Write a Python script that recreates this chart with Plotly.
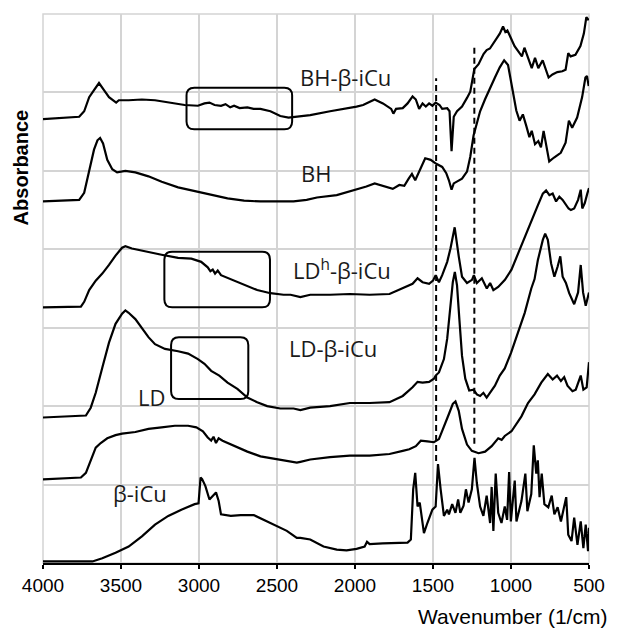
import plotly.graph_objects as go

# ---- data: (wavenumber 1/cm, stacked absorbance in display units) ----
BH_BICU = [(4000,5.66),(3768,5.69),(3736,5.76),(3704,5.94),(3673,6.03),(3641,6.12),(3609,6.03),(3577,5.94),
           (3531,5.87),(3514,5.90),(3451,5.90),(3366,5.91),(3282,5.90),(3197,5.87),(3092,5.84),(3007,5.83),
           (2965,5.86),(2933,5.87),(2900,5.84),(2859,5.83),(2830,5.85),(2800,5.81),(2775,5.83),(2740,5.80),
           (2690,5.81),(2650,5.79),(2606,5.79),(2542,5.76),(2479,5.70),(2426,5.68),(2371,5.69),(2287,5.71),
           (2160,5.76),(2033,5.80),(1990,5.82),(1948,5.84),(1874,5.91),(1821,5.86),(1768,5.79),(1754,5.73),
           (1737,5.79),(1694,5.80),(1663,5.86),(1631,5.95),(1610,5.91),(1589,5.79),(1567,5.86),(1546,5.82),
           (1525,5.86),(1504,5.83),(1483,5.87),(1458,5.84),(1441,5.79),(1409,5.80),(1394,5.76),(1381,5.25),
           (1367,5.69),(1346,5.76),(1314,5.82),(1282,5.93),(1261,6.01),(1235,6.30),(1208,6.36),(1176,6.49),
           (1156,6.54),(1135,6.56),(1114,6.62),(1093,6.69),(1072,6.75),(1051,6.84),(1036,6.77),(1023,6.79),
           (998,6.67),(977,6.59),(945,6.50),(930,6.46),(914,6.57),(892,6.46),(867,6.31),(846,6.44),(825,6.31),
           (797,6.41),(776,6.29),(759,6.19),(734,6.23),(703,6.26),(671,6.27),(650,6.29),(633,6.50),(618,6.46),
           (587,6.48),(555,6.59),(533,6.75),(517,6.96),(502,6.92)]

BH = [(4000,4.61),(3768,4.63),(3736,4.72),(3704,5.01),(3673,5.27),(3651,5.39),(3634,5.42),(3615,5.35),
      (3588,5.14),(3556,5.02),(3525,4.98),(3472,5.00),(3408,4.98),(3324,4.93),(3239,4.86),(3134,4.79),
      (3028,4.74),(2922,4.69),(2817,4.65),(2711,4.62),(2606,4.61),(2500,4.61),(2394,4.61),(2310,4.63),
      (2244,4.66),(2117,4.69),(1990,4.76),(1927,4.80),(1874,4.84),(1821,4.81),(1758,4.77),(1716,4.82),
      (1684,4.81),(1656,4.90),(1635,4.96),(1614,4.88),(1589,4.99),(1567,5.09),(1550,5.16),(1515,5.14),
      (1479,5.09),(1441,5.05),(1415,4.97),(1398,4.88),(1381,4.76),(1367,4.84),(1346,4.86),(1314,4.90),
      (1282,4.99),(1261,5.18),(1240,5.45),(1210,5.68),(1198,5.76),(1167,5.91),(1135,6.06),(1103,6.19),
      (1072,6.32),(1044,6.41),(1019,6.35),(994,6.06),(966,5.77),(945,5.64),(924,5.72),(903,5.58),(882,5.43),
      (867,5.51),(846,5.34),(825,5.38),(808,5.30),(791,5.51),(770,5.25),(755,5.12),(724,5.17),(681,5.23),
      (650,5.36),(629,5.64),(608,5.55),(576,5.68),(544,5.94),(523,6.19),(513,6.21),(502,6.08)]

LDH_BICU = [(4000,3.26),(3757,3.27),(3736,3.33),(3704,3.48),(3662,3.60),(3620,3.69),(3577,3.80),(3535,3.92),
            (3493,4.02),(3472,4.04),(3430,4.01),(3345,3.97),(3240,3.93),(3134,3.89),(3049,3.88),(2986,3.84),
            (2944,3.77),(2927,3.72),(2912,3.74),(2897,3.69),(2880,3.73),(2859,3.67),(2796,3.62),(2711,3.55),
            (2627,3.48),(2542,3.44),(2458,3.42),(2413,3.42),(2350,3.39),(2287,3.42),(2160,3.42),(2033,3.43),
            (1906,3.42),(1779,3.43),(1694,3.50),(1631,3.56),(1599,3.63),(1567,3.58),(1525,3.56),(1500,3.60),
            (1483,3.67),(1462,3.58),(1441,3.67),(1409,3.84),(1388,4.01),(1361,4.28),(1335,3.91),(1314,3.65),
            (1282,3.57),(1250,3.61),(1238,3.67),(1219,3.57),(1187,3.63),(1155,3.50),(1134,3.57),(1113,3.48),
            (1082,3.52),(1039,3.61),(997,3.74),(955,3.95),(912,4.16),(870,4.37),(828,4.56),(796,4.71),
            (775,4.75),(754,4.69),(733,4.71),(711,4.61),(690,4.67),(669,4.63),(648,4.56),(631,4.52),(616,4.50),
            (595,4.52),(570,4.63),(553,4.76),(543,4.52),(527,4.59),(511,4.71),(500,4.78)]

LD_BICU = [(4000,1.855),(3725,1.88),(3694,1.98),(3662,2.17),(3620,2.49),(3577,2.81),(3535,3.05),(3493,3.18),
           (3472,3.22),(3451,3.19),(3408,3.11),(3366,2.99),(3324,2.88),(3282,2.79),(3218,2.73),(3134,2.70),
           (3070,2.67),(3007,2.60),(2965,2.54),(2922,2.45),(2870,2.39),(2817,2.30),(2754,2.22),(2690,2.11),
           (2627,2.05),(2563,2.00),(2479,1.97),(2394,1.97),(2350,1.95),(2287,1.98),(2160,2.00),(2033,2.04),
           (1906,2.04),(1779,2.05),(1694,2.13),(1631,2.24),(1599,2.31),(1567,2.30),(1525,2.31),(1494,2.35),
           (1483,2.39),(1462,2.43),(1430,2.60),(1409,2.86),(1388,3.24),(1373,3.58),(1360,3.71),(1346,3.54),
           (1331,3.11),(1314,2.64),(1293,2.35),(1268,2.20),(1240,2.21),(1219,2.15),(1198,2.13),(1177,2.17),
           (1156,2.11),(1134,2.17),(1103,2.26),(1072,2.39),(1040,2.48),(1000,2.68),(955,2.95),(912,3.19),
           (870,3.50),(849,3.62),(828,3.86),(796,4.12),(781,4.20),(764,4.12),(743,3.82),(722,3.65),(701,3.78),
           (684,3.91),(669,3.65),(648,3.57),(627,3.44),(595,3.30),(570,3.45),(553,3.80),(538,3.45),(521,3.28),
           (500,3.45)]

LD = [(4000,1.066),(3757,1.09),(3725,1.15),(3694,1.32),(3662,1.47),(3630,1.53),(3588,1.59),(3535,1.63),
      (3493,1.65),(3408,1.67),(3324,1.71),(3240,1.73),(3155,1.75),(3070,1.75),(3017,1.73),(2975,1.68),
      (2944,1.60),(2922,1.56),(2907,1.61),(2891,1.53),(2874,1.59),(2849,1.56),(2775,1.49),(2690,1.42),
      (2606,1.36),(2521,1.33),(2437,1.31),(2373,1.28),(2350,1.29),(2287,1.32),(2160,1.35),(2033,1.37),
      (1906,1.37),(1779,1.39),(1694,1.43),(1652,1.45),(1610,1.49),(1578,1.56),(1536,1.55),(1494,1.54),
      (1462,1.58),(1430,1.73),(1398,1.90),(1373,2.03),(1356,2.06),(1335,1.94),(1314,1.71),(1282,1.51),
      (1251,1.43),(1208,1.40),(1166,1.42),(1124,1.49),(1082,1.59),(1060,1.57),(1040,1.62),(997,1.68),
      (933,1.87),(891,2.04),(849,2.15),(806,2.30),(775,2.39),(764,2.41),(733,2.34),(705,2.39),(680,2.32),
      (659,2.37),(638,2.26),(606,2.19),(585,2.21),(553,2.39),(536,2.21),(515,2.24),(500,2.56)]

BICU = [(4000,0.02),(3683,0.02),(3620,0.06),(3535,0.13),(3451,0.21),(3366,0.34),(3282,0.49),(3197,0.60),
        (3113,0.68),(3028,0.75),(3003,0.76),(2990,1.09),(2980,1.07),(2959,0.98),(2933,0.81),(2912,0.85),
        (2891,0.90),(2874,0.79),(2859,0.62),(2796,0.60),(2733,0.61),(2648,0.61),(2585,0.55),(2500,0.47),
        (2437,0.41),(2373,0.32),(2350,0.32),(2287,0.30),(2202,0.21),(2117,0.17),(2054,0.16),(1990,0.18),
        (1938,0.21),(1923,0.27),(1906,0.24),(1822,0.25),(1737,0.26),(1663,0.26),(1642,0.30),(1627,0.94),
        (1614,1.15),(1599,0.72),(1585,0.77),(1558,0.38),(1536,0.51),(1504,0.68),(1483,0.72),(1468,1.26),
        (1451,0.94),(1430,0.60),(1409,0.68),(1398,0.62),(1377,0.75),(1356,0.64),(1339,0.81),(1325,0.64),
        (1304,0.73),(1289,0.94),(1272,0.77),(1251,0.94),(1234,1.34),(1219,1.02),(1198,0.72),(1177,0.60),
        (1156,0.86),(1134,0.51),(1124,0.97),(1113,0.41),(1098,1.14),(1082,0.64),(1061,0.51),(1040,0.72),
        (1025,0.55),(1012,1.16),(1001,0.53),(976,1.05),(965,0.53),(933,0.79),(908,1.14),(895,0.66),(870,0.88),
        (854,1.50),(838,1.14),(828,1.31),(817,0.84),(803,1.14),(786,0.75),(761,0.71),(739,0.86),(722,0.62),
        (701,0.71),(680,0.53),(646,0.84),(633,0.36),(612,0.28),(595,0.58),(574,0.23),(553,0.53),(536,0.19),
        (521,0.49),(506,0.15),(500,0.45)]

SERIES = [("BH-β-iCu", BH_BICU), ("BH", BH), ("LDh-β-iCu", LDH_BICU),
          ("LD-β-iCu", LD_BICU), ("LD", LD), ("β-iCu", BICU)]

X_TICKS = [4000, 3500, 3000, 2500, 2000, 1500, 1000, 500]
DASHED_WN = [1480, 1235]

fig = go.Figure()
for name, pts in SERIES:
    fig.add_trace(go.Scatter(x=[p[0] for p in pts], y=[p[1] for p in pts], mode="lines",
                             name=name, line=dict(color="black", width=2.2), showlegend=False))

GRID = "#d4d4d4"
shapes = []
shapes.append(dict(type="rect", xref="paper", yref="paper", x0=0, x1=1, y0=0, y1=1,
                   line=dict(color=GRID, width=1.5), layer="below"))
for wn, y0, y1 in [(DASHED_WN[0], 1.30, 6.18), (DASHED_WN[1], 1.52, 6.57)]:
    shapes.append(dict(type="line", x0=wn, x1=wn, y0=y0, y1=y1,
                       line=dict(color="black", width=2, dash="6px,4px")))

def rounded_box(xl, xr, yt, yb, dx=50, dy=0.10):
    p = (f"M {xl-dx},{yt} L {xr+dx},{yt} Q {xr},{yt} {xr},{yt-dy} "
         f"L {xr},{yb+dy} Q {xr},{yb} {xr+dx},{yb} L {xl-dx},{yb} "
         f"Q {xl},{yb} {xl},{yb+dy} L {xl},{yt-dy} Q {xl},{yt} {xl-dx},{yt} Z")
    return dict(type="path", path=p, line=dict(color="black", width=2))

shapes.append(rounded_box(3080, 2403, 6.06, 5.53))
shapes.append(rounded_box(3222, 2545, 3.97, 3.26))
shapes.append(rounded_box(3179, 2684, 2.88, 2.09))

LABEL_FONT = dict(family="Open Sans, Liberation Sans, sans-serif", size=22, color="#1a1a1a")
labels = [("BH-β-iCu", 2063, 6.20), ("BH", 2251, 4.97), ("LD<sup>h</sup>-β-iCu", 2086, 3.74),
          ("LD-β-iCu", 2139, 2.74), ("LD", 3304, 2.12), ("β-iCu", 3376, 0.89)]
annotations = [dict(text=t, x=x, y=y, xref="x", yref="y", showarrow=False,
                    xanchor="center", yanchor="middle", font=LABEL_FONT) for t, x, y in labels]
annotations.append(dict(text="Wavenumber (1/cm)", xref="paper", yref="paper", x=1.036, y=-0.0977,
                        xanchor="right", yanchor="middle", showarrow=False,
                        font=dict(family="Liberation Sans, Arial, sans-serif", size=21, color="black")))
annotations.append(dict(text="<b>Absorbance</b>", xref="paper", yref="paper", x=-0.0399, y=0.721,
                        xanchor="center", yanchor="middle", textangle=-90, showarrow=False,
                        font=dict(family="Liberation Sans, Arial, sans-serif", size=20, color="black")))

fig.update_layout(
    width=617, height=629,
    margin=dict(l=43, r=22, t=14, b=66),
    paper_bgcolor="white", plot_bgcolor="white",
    shapes=shapes, annotations=annotations,
    xaxis=dict(range=[4000, 500], tickvals=X_TICKS, ticktext=[str(v) for v in X_TICKS],
               showgrid=True, gridcolor=GRID, gridwidth=1.5, zeroline=False,
               showline=True, linecolor="black", linewidth=2,
               ticks="outside", ticklen=4, tickwidth=2, tickcolor="black",
               tickfont=dict(family="Liberation Sans, Arial, sans-serif", size=19, color="black")),
    yaxis=dict(range=[0, 7], dtick=1, showgrid=True, gridcolor=GRID, gridwidth=1.5,
               zeroline=False, showticklabels=False, ticks="", showline=False),
)

fig.write_html("out.html", config={"displayModeBar": False},
               post_script="document.body.style.margin='0';")
